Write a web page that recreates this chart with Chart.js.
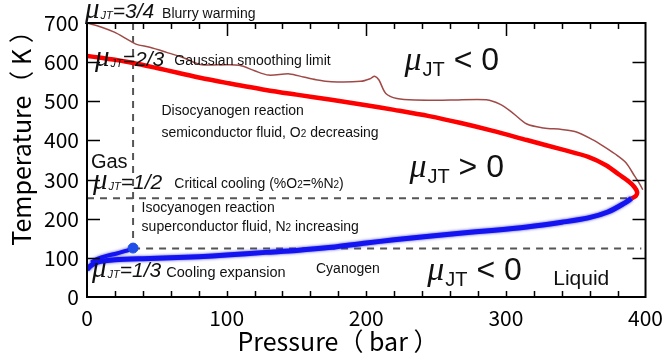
<!DOCTYPE html>
<html lang="en">
<head>
<meta charset="UTF-8">
<title>Joule-Thomson inversion curve</title>
<script src="https://cdn.jsdelivr.net/npm/chart.js"></script>
<style>
  html, body { margin: 0; padding: 0; background: #fff; }
  #wrap { width: 671px; height: 361px; }
</style>
</head>
<body>
<div id="wrap"><canvas id="jtChart" width="671" height="361"></canvas></div>
<script>
// axis ranges / ticks
const pressureTicks = [0, 100, 200, 300, 400];
const temperatureTicks = [0, 100, 200, 300, 400, 500, 600, 700];

// thin brown curve (mu_JT = 3/4, blurry warming)
const warmingP = [0, 10, 20, 28, 35, 45, 57, 70, 81, 95, 109, 120, 130, 145, 155, 164, 175, 196, 203, 206, 209, 214, 222, 235, 260, 286, 296, 305, 315, 327, 340, 350, 362, 370, 378, 386, 392, 396, 398];
const warmingT = [700, 690, 676, 660, 646, 638, 625, 610, 594, 593, 592, 578, 567, 570, 562, 555, 550, 551, 558, 564, 555, 520, 507, 503, 503, 504, 492, 470, 442, 432, 428, 422, 402, 385, 366, 343, 310, 288, 274];

// red branch of the inversion curve (upper)
const upperP = [0, 10, 20, 33, 50, 65, 81, 100, 128, 150, 175, 200, 220, 245, 267, 290, 315, 340, 359, 372, 381, 388, 392, 394, 393, 390];
const upperT = [616, 611, 606, 598, 585, 573, 560, 547, 529, 517, 504, 490, 478, 462, 445, 425, 401, 377, 358, 336, 313, 295, 281, 268, 258, 252];

// blue branch of the inversion curve (lower)
const lowerP = [390, 385, 373, 359, 340, 315, 290, 267, 245, 220, 200, 175, 150, 128, 100, 80, 60, 40, 20, 10, 5, 2, 0];
const lowerT = [252, 240, 217, 202, 191, 179, 170, 163, 155, 146, 138, 127, 119, 114, 107, 103, 100, 98, 95, 91, 85, 78, 70];

// short blue hook ending at the marked point
const hookP = [3, 8, 14, 20, 27, 33];
const hookT = [88, 98, 105, 110, 117, 124];
const markP = [33];
const markT = [125];

// dashed guide lines
const gasLimitP = 33;       // vertical
const criticalT = 252;      // upper horizontal
const criticalEndP = 390;
const cyanogenT = 124;      // lower horizontal
const cyanogenEndP = 397;

function toPoints(xs, ys) {
  return xs.map((x, i) => ({ x: x, y: ys[i] }));
}

const dashStyle = {
  borderColor: '#555', borderWidth: 2, borderDash: [7, 6],
  pointRadius: 0, showLine: true, fill: false, order: 9
};

const datasets = [
  Object.assign({ data: [{ x: gasLimitP, y: 700 }, { x: gasLimitP, y: markT[0] }] }, dashStyle),
  Object.assign({ data: [{ x: 0, y: criticalT }, { x: criticalEndP, y: criticalT }] }, dashStyle),
  Object.assign({ data: [{ x: gasLimitP, y: cyanogenT }, { x: cyanogenEndP, y: cyanogenT }] }, dashStyle),
  {
    data: toPoints(warmingP, warmingT), showLine: true, pointRadius: 0,
    borderColor: '#a04a48', borderWidth: 1.5, tension: 0.3, order: 5
  },
  {
    data: toPoints(upperP, upperT), showLine: true, pointRadius: 0,
    borderColor: '#ff0000', borderWidth: 4.5, tension: 0.3, order: 4
  },
  {
    data: toPoints(lowerP, lowerT), showLine: true, pointRadius: 0, soft: true,
    borderColor: '#1414f0', borderWidth: 5, tension: 0.3, order: 3
  },
  {
    data: toPoints(hookP, hookT), showLine: true, pointRadius: 0, soft: true,
    borderColor: '#1414f0', borderWidth: 4, tension: 0.3, order: 2
  },
  {
    data: toPoints(markP, markT), showLine: false, pointRadius: 5,
    pointBackgroundColor: '#1f4fe8', pointBorderColor: '#1f4fe8', order: 1
  }
];

const SANS = '"Liberation Sans", Arial, sans-serif';

function drawRuns(ctx, x, y, runs) {
  runs.forEach(r => {
    ctx.font = r.font;
    ctx.fillText(r.text, x, y + (r.dy || 0));
    x += ctx.measureText(r.text).width + (r.gap || 0);
  });
}

// "mu_JT=a/b"
function muRatio(ratio) {
  return [
    { text: 'μ', font: 'italic 29px "Liberation Serif", serif', gap: 1 },
    { text: 'JT', font: 'italic 11px ' + SANS, dy: 1 },
    { text: '=' + ratio, font: 'italic 21px ' + SANS }
  ];
}
// "mu_JT < 0" / "mu_JT > 0"
function muSign(sign) {
  return [
    { text: 'μ', font: 'italic 34px "Liberation Serif", serif', gap: 1 },
    { text: 'JT', font: '20px ' + SANS, dy: 6 },
    { text: ' ' + sign + ' 0', font: '32px ' + SANS }
  ];
}
// caption with a small "2" after O / N
function withSub(parts) {
  const out = [];
  parts.forEach((s, i) => {
    if (i > 0) out.push({ text: '2', font: '10px ' + SANS });
    out.push({ text: s, font: '14px ' + SANS });
  });
  return out;
}

// annotations anchored in data units (pressure, temperature)
const notes = [
  { p: -1.4, t: 713, runs: muRatio('3/4') },
  { p: 53.8, t: 713, runs: [{ text: 'Blurry warming', font: '14px ' + SANS }] },
  { p: 5.7, t: 590, runs: muRatio('2/3') },
  { p: 62.5, t: 592, runs: [{ text: 'Gaussian smoothing limit', font: '14px ' + SANS }] },
  { p: 53.3, t: 465, runs: [{ text: 'Disocyanogen reaction', font: '14px ' + SANS }] },
  { p: 53.3, t: 409, runs: withSub(['semiconductor fluid, O', ' decreasing']) },
  { p: 2.8, t: 330, runs: [{ text: 'Gas', font: '20px ' + SANS }] },
  { p: 4.3, t: 276, runs: muRatio('1/2') },
  { p: 62.5, t: 278, runs: withSub(['Critical cooling (%O', '=%N', ')']) },
  { p: 39.1, t: 217, runs: [{ text: 'Isocyanogen reaction', font: '14px ' + SANS }] },
  { p: 39.1, t: 169, runs: withSub(['superconductor fluid, N', ' increasing']) },
  { p: 3.6, t: 51, runs: muRatio('1/3') },
  { p: 56.8, t: 51, runs: [{ text: 'Cooling expansion', font: '14.5px ' + SANS }] },
  { p: 164, t: 61, runs: [{ text: 'Cyanogen', font: '14px ' + SANS }] },
  { p: 227.4, t: 580, runs: muSign('<') },
  { p: 230.9, t: 307, runs: muSign('>') },
  { p: 243.7, t: 43, runs: muSign('<') },
  { p: 333.9, t: 31, runs: [{ text: 'Liquid', font: '21px ' + SANS }] }
];

// soft edge on the blue branch
const softLines = {
  id: 'softLines',
  beforeDatasetDraw(chart, args) {
    if (chart.data.datasets[args.index].soft) {
      chart.ctx.save();
      chart.ctx.shadowColor = 'rgba(20,20,240,0.8)';
      chart.ctx.shadowBlur = 3;
    }
  },
  afterDatasetDraw(chart, args) {
    if (chart.data.datasets[args.index].soft) chart.ctx.restore();
  }
};

// frame, inward ticks, axis titles and text notes
const decorations = {
  id: 'decorations',
  afterDraw(chart) {
    const ctx = chart.ctx;
    const a = chart.chartArea;
    const xs = chart.scales.x, ys = chart.scales.y;
    ctx.save();
    ctx.strokeStyle = '#000';
    ctx.lineWidth = 1.5;
    ctx.beginPath();
    for (let p = 20; p < 400; p += 20) {
      const px = Math.round(xs.getPixelForValue(p)) + 0.5;
      const major = p % 100 === 0;
      ctx.moveTo(px, a.bottom);
      ctx.lineTo(px, a.bottom - 6);
      ctx.moveTo(px, a.top);
      ctx.lineTo(px, a.top + (major ? 13 : 6));
    }
    temperatureTicks.slice(1, -1).forEach(t => {
      const py = Math.round(ys.getPixelForValue(t)) + 0.5;
      ctx.moveTo(a.left, py);
      ctx.lineTo(a.left + 13, py);
      ctx.moveTo(a.right, py);
      ctx.lineTo(a.right - 13, py);
    });
    ctx.stroke();

    ctx.lineWidth = 2;
    ctx.strokeRect(a.left, a.top, a.right - a.left, a.bottom - a.top);

    ctx.fillStyle = '#000';
    ctx.textBaseline = 'alphabetic';
    ctx.textAlign = 'center';
    ctx.font = '25px "Noto Sans CJK JP", sans-serif';
    ctx.fillText('Pressure（ bar ）', 338, 351);
    ctx.save();
    ctx.translate(31, 132);
    ctx.rotate(-Math.PI / 2);
    ctx.fillText('Temperature（ K ）', 0, 0);
    ctx.restore();

    ctx.textAlign = 'left';
    ctx.fillStyle = '#111';
    notes.forEach(n => {
      drawRuns(ctx, xs.getPixelForValue(n.p), ys.getPixelForValue(n.t), n.runs);
    });
    ctx.restore();
  }
};

const tickFont = { family: '"Noto Sans CJK JP", sans-serif', size: 21 };

new Chart(document.getElementById('jtChart').getContext('2d'), {
  type: 'scatter',
  data: { datasets: datasets },
  options: {
    responsive: false,
    animation: false,
    layout: { padding: { top: 23, right: 21, left: 0, bottom: 0 } },
    plugins: { legend: { display: false }, tooltip: { enabled: false } },
    scales: {
      x: {
        type: 'linear', min: 0, max: 400,
        afterBuildTicks: s => { s.ticks = pressureTicks.map(v => ({ value: v })); },
        afterFit: s => { s.height = 64; },
        grid: { display: false, drawTicks: false },
        border: { display: false },
        ticks: { font: tickFont, color: '#000', padding: 8, maxRotation: 0 }
      },
      y: {
        type: 'linear', min: 0, max: 700,
        afterBuildTicks: s => { s.ticks = temperatureTicks.map(v => ({ value: v })); },
        afterFit: s => { s.width = 87; },
        grid: { display: false, drawTicks: false },
        border: { display: false },
        ticks: { font: tickFont, color: '#000', padding: 8 }
      }
    }
  },
  plugins: [softLines, decorations]
});
</script>
</body>
</html>
